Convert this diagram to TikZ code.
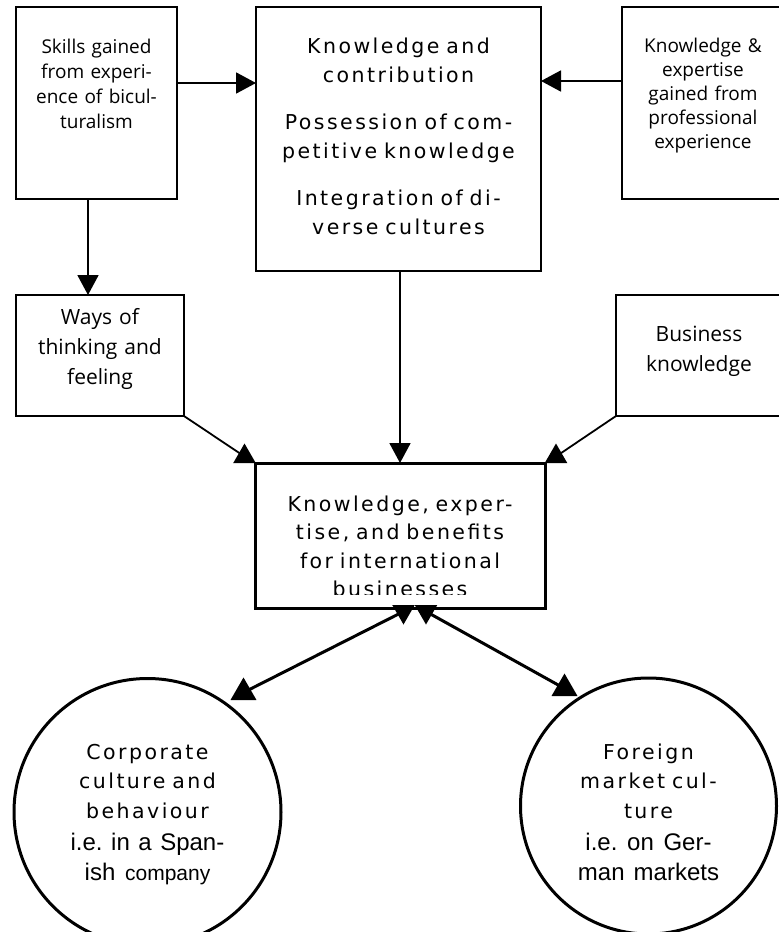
\documentclass[tikz,border=0pt]{standalone}
\usepackage{fontspec}
\setmainfont{Open Sans}
\newfontfamily\widefont[LetterSpace=12]{DejaVu Sans}
\newfontfamily\arialfont{Liberation Sans}
\usetikzlibrary{arrows.meta,shapes.geometric,positioning}

\begin{document}
\begin{tikzpicture}[x=1pt,y=-1pt]
\tikzstyle{box}=[draw, line width=1.8pt, rectangle, inner sep=0pt, outer sep=0pt, align=center]
\tikzstyle{blob}=[draw, line width=3pt, circle, inner sep=0pt, outer sep=0pt, align=center, text width=200pt,
                  font=\widefont\fontsize{20.5}{29.5}\selectfont]
\tikzstyle{arr}=[line width=1.8pt, -{Triangle[length=20pt,width=21pt]}]
\tikzstyle{arrowtri}=[regular polygon, regular polygon sides=3, fill=black, inner sep=0pt, outer sep=0pt, minimum size=26pt]
\tikzstyle{bigtri}=[arrowtri, minimum size=30pt]
\useasboundingbox (0,0) rectangle (779,932);
\clip (0,0) rectangle (779,932);
% top row
\node[box, minimum width=161pt, text width=161pt, minimum height=192pt, text height=46pt, text depth=146pt,
      font=\fontsize{19}{25.3}\selectfont] (skills) at (96.5,103) {Skills gained\\from experi-\\ence of bicul-\\turalism};
\node[box, minimum width=285pt, text width=285pt, minimum height=264pt, text height=46pt, text depth=218pt,
      font=\widefont\fontsize{20.5}{29.5}\selectfont] (contrib) at (398.5,139)
      {Knowledge and\\contribution\\[17pt]Possession of com-\\petitive knowledge\\[17pt]Integration of di-\\verse cultures};
\node[box, minimum width=162pt, text width=162pt, minimum height=192pt, text height=45pt, text depth=147pt,
      font=\fontsize{19}{24}\selectfont] (prof) at (703,103) {Knowledge \&\\expertise\\gained from\\professional\\experience};
% middle row
\node[box, minimum width=168pt, text width=168pt, minimum height=121pt, text height=29pt, text depth=92pt,
      font=\fontsize{21}{30}\selectfont] (ways) at (100,355.5) {Ways of\\thinking and\\feeling};
\node[box, minimum width=166pt, text width=166pt, minimum height=121pt, text height=46pt, text depth=75pt,
      font=\fontsize{21}{30}\selectfont] (business) at (699,355.5) {Business\\knowledge};
\node[box, line width=3pt, minimum width=290pt, text width=290pt, minimum height=145pt, text height=48pt, text depth=97pt,
      font=\widefont\fontsize{20.5}{28.5}\selectfont] (result) at (400,535.5)
      {Knowledge, exper-\\tise, and benefits\\for international\\businesses};
\fill[white] ([shift={(2,-13.5)}]result.south west) rectangle ([shift={(-2,-2.5)}]result.south east);
% circles
\node[blob, minimum size=267pt, text height=22pt, text depth=128pt] (corp) at (147.5,812)
      {Corporate\\culture and\\behaviour\\[3pt]\arialfont\fontsize{24}{29.5}\selectfont\spaceskip=0pt i.e.\ in a Span-\\ish {\fontsize{21}{29.5}\selectfont company}};
\node[blob, minimum size=256pt, text height=22pt, text depth=116pt] (foreign) at (648.5,806)
      {Foreign\\market cul-\\ture\\[3pt]\arialfont\fontsize{24}{29.5}\selectfont\spaceskip=0pt i.e.\ on Ger-\\man markets};
% straight arrows
\draw[arr] ([yshift=20pt]skills.east) -- ([yshift=20pt]skills.east -| contrib.west);
\draw[arr] ([yshift=22pt]prof.west) -- ([yshift=22pt]prof.west -| contrib.east);
\draw[arr] ([xshift=-8.5pt]skills.south) -- ([xshift=-8.5pt]skills.south |- ways.north);
\draw[arr] (result.north |- contrib.south) -- (result.north);
% upright heads on the slanted arrows
\node[arrowtri, anchor=south] (wt) at ([xshift=-10.5pt]result.north west) {};
\node[arrowtri, anchor=south] (bt) at ([xshift=11pt]result.north east) {};
\draw[line width=1.8pt] (ways.south east) -- (wt.center);
\draw[line width=1.8pt] (business.south west) -- (bt.center);
\node[arrowtri, shape border rotate=180, anchor=north] (cu) at ([shift={(3.5,-3)}]result.south) {};
\node[arrowtri, shape border rotate=180, anchor=north] (fu) at ([shift={(26,-3)}]result.south) {};
\node[bigtri, anchor=south] (cl) at (243.5,700) {};
\node[bigtri, anchor=south] (fl) at (564.5,696) {};
\draw[line width=3pt] (cu.center) -- (cl.center);
\draw[line width=3pt] (fu.center) -- (fl.center);
\end{tikzpicture}
\end{document}
